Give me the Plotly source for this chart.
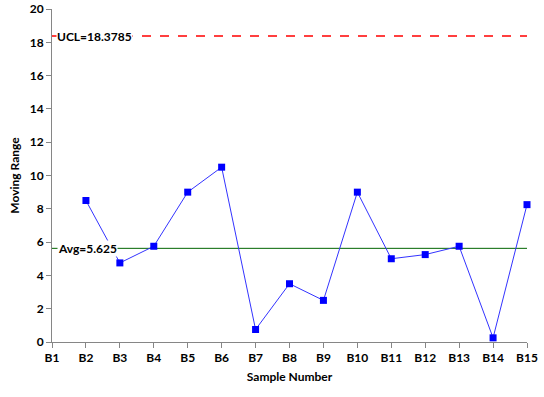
import plotly.graph_objects as go

categories = ["B1", "B2", "B3", "B4", "B5", "B6", "B7", "B8", "B9", "B10", "B11", "B12", "B13", "B14", "B15"]
sample_labels = categories[1:]
moving_range = [8.5, 4.75, 5.75, 9.0, 10.5, 0.75, 3.5, 2.5, 9.0, 5.0, 5.25, 5.75, 0.25, 8.25]
avg_value = 5.625
ucl_value = 18.3785
y_ticks = [0, 2, 4, 6, 8, 10, 12, 14, 16, 18, 20]

font_family = "Lato, 'Open Sans', sans-serif"

fig = go.Figure()
fig.add_trace(go.Scatter(
    x=sample_labels, y=moving_range, mode="lines+markers",
    line=dict(color="#3333FF", width=1),
    marker=dict(symbol="square", size=7, color="#0000FF"),
    cliponaxis=False,
    showlegend=False,
))

fig.add_shape(type="line", xref="x", yref="y", x0=0, x1=14, y0=ucl_value, y1=ucl_value,
              line=dict(color="#FF0000", width=1.5, dash="dash"), layer="below")
fig.add_shape(type="line", xref="x", yref="y", x0=0, x1=14, y0=avg_value, y1=avg_value,
              line=dict(color="#006400", width=1), layer="below")

fig.add_annotation(x=0, y=ucl_value, xref="x", yref="y", text=f"UCL={ucl_value}",
                   showarrow=False, xanchor="left", xshift=4, bgcolor="white",
                   borderpad=0, font=dict(family=font_family, size=12, color="black"))
fig.add_annotation(x=0, y=avg_value, xref="x", yref="y", text=f"Avg={avg_value}",
                   showarrow=False, xanchor="left", xshift=5, bgcolor="white",
                   borderpad=0, font=dict(family=font_family, size=12, color="black"))

fig.update_layout(
    width=544, height=397,
    margin=dict(l=52, r=17, t=9, b=55, autoexpand=False),
    plot_bgcolor="white", paper_bgcolor="white",
    font=dict(family=font_family, size=12, color="black", weight="bold"),
    xaxis=dict(
        type="category", categoryorder="array", categoryarray=categories,
        range=[0, 14], showgrid=False, showline=True, linecolor="#868686", linewidth=1,
        ticks="outside", ticklen=5, tickcolor="#868686", zeroline=False, automargin=False,
        tickfont=dict(family=font_family, size=12, weight="bold"),
        title=dict(text="Sample Number", font=dict(family=font_family, size=12, weight="bold"), standoff=8),
    ),
    yaxis=dict(
        range=[0, 20], tickvals=y_ticks, showgrid=False, showline=True, linecolor="#868686",
        linewidth=1, ticks="outside", ticklen=5, tickcolor="#868686", zeroline=False, automargin=False,
        tickfont=dict(family=font_family, size=12, weight="bold"),
        title=dict(text="Moving Range", font=dict(family=font_family, size=12, weight="bold"), standoff=7),
    ),
)

fig.write_html(
    "out.html",
    config={"displayModeBar": False},
    post_script="document.body.style.margin='0';document.body.style.overflow='hidden';",
)
